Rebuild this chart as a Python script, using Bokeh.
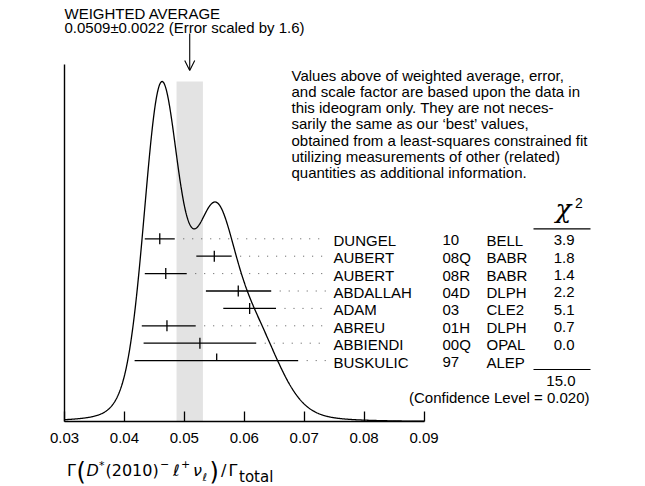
import numpy as np
from bokeh.plotting import figure
from bokeh.models import Range1d, FixedTicker, Arrow, OpenHead, ColumnDataSource
from bokeh.core.properties import value
from bokeh.embed import file_html
from bokeh.resources import INLINE

# ---------------- data ----------------
names = ["DUNGEL", "AUBERT", "AUBERT", "ABDALLAH", "ADAM", "ABREU", "ABBIENDI", "BUSKULIC"]
years = ["10", "08Q", "08R", "04D", "03", "01H", "00Q", "97"]
exps = ["BELL", "BABR", "BABR", "DLPH", "CLE2", "DLPH", "OPAL", "ALEP"]
chi2 = ["3.9", "1.8", "1.4", "2.2", "5.1", "0.7", "0.0", ""]
values = [0.0459, 0.0550, 0.0469, 0.0590, 0.0609, 0.0471, 0.0526, 0.0554]
err_lo = [0.0025, 0.0030, 0.0035, 0.0054, 0.0044, 0.0042, 0.0094, 0.0137]
err_hi = [0.0025, 0.0029, 0.0035, 0.0055, 0.0044, 0.0048, 0.0094, 0.0136]
avg = 0.0509
avg_err = 0.0022
scale_factor = "1.6"
chi2_total = "15.0"
conf_level = "0.020"
tick_values = [0.03, 0.04, 0.05, 0.06, 0.07, 0.08, 0.09]
tick_labels = ["0.03", "0.04", "0.05", "0.06", "0.07", "0.08", "0.09"]
note_lines = [
    "Values above of weighted average, error,",
    "and scale factor are based upon the data in",
    "this ideogram only.  They are not neces-",
    "sarily the same as our \u2018best\u2019 values,",
    "obtained from a least-squares constrained fit",
    "utilizing measurements of other (related)",
    "quantities as additional information.",
]

# ---------------- layout (canvas == page pixels) ----------------
W, H = 645, 486
X_LO_PX, X_HI_PX = 64, 423.5         # pixel of 0.03 and 0.09
BASE_PX = 421                        # pixel row of the axis baseline
k = (X_HI_PX - X_LO_PX) / (tick_values[-1] - tick_values[0])
xs = tick_values[0] - X_LO_PX / k
xe = xs + W / k


def X(px):
    return xs + px / k


def Y(py):
    return H - py


def TY(baseline_py, fs):
    # em-box middle for a text whose alphabetic baseline sits at baseline_py
    return Y(baseline_py - 0.35 * fs)


FONT = value("Liberation Sans")

p = figure(width=W, height=H, x_range=Range1d(xs, xe), y_range=Range1d(0, H),
           output_backend="svg", toolbar_location=None,
           min_border_left=0, min_border_right=0, min_border_top=0,
           min_border_bottom=0, y_axis_location=None)
p.grid.visible = False
p.outline_line_color = None
p.background_fill_color = "white"
p.border_fill_color = "white"

ax = p.xaxis[0]
ax.fixed_location = Y(BASE_PX)
ax.ticker = FixedTicker(ticks=tick_values)
ax.major_label_overrides = {t: l for t, l in zip(tick_values, tick_labels)}
ax.bounds = (tick_values[0], tick_values[-1])
ax.major_tick_in = 10
ax.major_tick_out = 0
ax.minor_tick_line_color = None
ax.axis_line_width = 1.4
ax.axis_line_color = "black"
ax.major_tick_line_width = 1.3
ax.major_tick_line_color = "black"
ax.major_label_text_font = "Liberation Sans"
ax.major_label_text_font_size = "15px"
ax.major_label_text_color = "black"
ax.major_label_standoff = 11

base = Y(BASE_PX)

# ---------------- ideogram curve ----------------
band_top = Y(81)
vals = np.array(values)
lo = np.array(err_lo)
hi = np.array(err_hi)
xg = np.linspace(tick_values[0], tick_values[-1], 800)
curve = np.zeros_like(xg)
for v, a, b in zip(vals, lo, hi):
    s = np.where(xg < v, a, b)
    sm = 0.5 * (a + b)
    curve += (1.0 / sm ** 2) * np.exp(-0.5 * ((xg - v) / s) ** 2)
curve = base + curve / curve.max() * (band_top - base)

p.quad(left=avg - avg_err, right=avg + avg_err, bottom=base, top=band_top,
       fill_color="#e3e3e3", line_color=None)
p.line(xg, curve, line_color="black", line_width=1.3)
p.segment(x0=[tick_values[0]], y0=[base], x1=[tick_values[0]], y1=[Y(64)],
          line_color="black", line_width=1.4)

# ---------------- measurements ----------------
n = len(values)
row_page = [238.3 + i * 17.4 for i in range(n)]
row_y = [Y(r) for r in row_page]
used = [c != "" for c in chi2]
FS = 15
src = ColumnDataSource(dict(
    v=values, lo=list(vals - lo), hi=list(vals + hi), y=row_y,
    ty0=[y - 5.5 if u else y for y, u in zip(row_y, used)],
    ty1=[y + 5.5 if u else y + 7 for y, u in zip(row_y, used)],
    dot0=list(vals + hi + 8.5 / k), dot1=[X(326)] * n,
    ty=[TY(r + 6.7, FS) for r in row_page],
    names=names, years=years, exps=exps, chi2=chi2,
))
p.segment(x0="dot0", y0="y", x1="dot1", y1="y", source=src,
          line_color="#555555", line_width=1, line_dash="1 8")
p.segment(x0="lo", y0="y", x1="hi", y1="y", source=src, line_color="black", line_width=1.3)
p.segment(x0="v", y0="ty0", x1="v", y1="ty1", source=src, line_color="black", line_width=1.3)

tx = dict(text_font=FONT, text_font_size="15px", text_color="black", text_baseline="middle")
p.text(x=X(333), y="ty", text="names", source=src, **tx)
p.text(x=X(442), y="ty", text="years", source=src, **tx)
p.text(x=X(486), y="ty", text="exps", source=src, **tx)
p.text(x=X(574), y="ty", text="chi2", source=src, text_align="right", **tx)

# chi^2 header, rules, total
p.text(x=[X(563)], y=[TY(218, 26)], text=["\u03c7"], text_font=value("DejaVu Serif"),
       text_font_style="italic", text_font_size="26px", text_align="center",
       text_baseline="middle", text_color="black")
p.text(x=[X(574.5)], y=[TY(207, 14)], text=["2"], text_font=FONT, text_font_size="14px",
       text_baseline="middle", text_color="black")
p.segment(x0=[X(533), X(533)], y0=[Y(228.3), Y(369)], x1=[X(590), X(590)], y1=[Y(228.3), Y(369)],
          line_color="black", line_width=1.2)
p.text(x=[X(575)], y=[TY(386, FS)], text=[chi2_total], text_align="right", **tx)
p.text(x=[X(589)], y=[TY(402.5, FS)], text=["(Confidence Level = %s)" % conf_level],
       text_align="right", **tx)

# weighted average header + arrow
p.text(x=[X(64), X(64)], y=[TY(18.3, FS), TY(32.5, FS)],
       text=["WEIGHTED AVERAGE",
             "%.4f\u00b1%.4f (Error scaled by %s)" % (avg, avg_err, scale_factor)], **tx)
p.add_layout(Arrow(x_start=avg, y_start=Y(33), x_end=avg, y_end=Y(70),
                   line_color="black", line_width=1.1,
                   end=OpenHead(size=10, line_color="black", line_width=1.1)))

# note paragraph
p.text(x=[X(291)] * len(note_lines),
       y=[TY(80 + i * 16.2, FS) for i in range(len(note_lines))],
       text=note_lines, **tx)

# ---------------- x-axis label (composed) ----------------
pieces = [
    # text, left px, baseline px, size, style
    ("\u0393", 66.5, 476, 16, "normal"),
    ("(", 76, 480, 24, "normal"),
    ("D", 86, 476, 16, "italic"),
    ("*", 98.5, 469, 11, "normal"),
    ("(2010)", 105, 476, 16, "normal"),
    ("\u2212", 159.5, 467, 11, "normal"),
    ("\u2113", 172.5, 476, 16, "italic"),
    ("+", 180.5, 467, 11, "normal"),
    ("\u03bd", 192.5, 476, 16, "italic"),
    ("\u2113", 202, 481, 11, "italic"),
    (")", 209, 480, 24, "normal"),
    ("/", 220.5, 476, 16, "normal"),
    ("\u0393", 228, 476, 16, "normal"),
    ("total", 238.5, 482, 15, "normal"),
]
for t, px_, py_, fs, st in pieces:
    p.text(x=[X(px_)], y=[TY(py_, fs)], text=[t], text_font=value("DejaVu Sans"),
           text_font_size="%dpx" % fs, text_font_style=st, text_baseline="middle",
           text_color="black")

open("out.html", "w").write(file_html(p, INLINE))
